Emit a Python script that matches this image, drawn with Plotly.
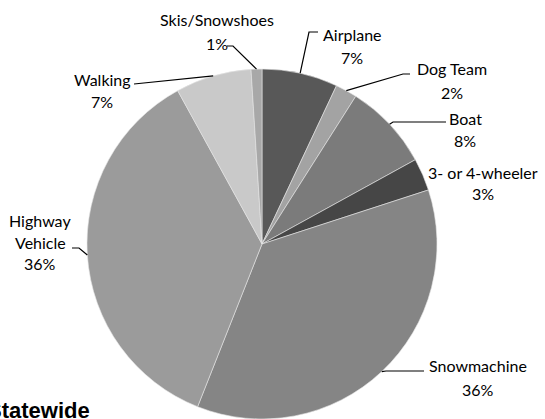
import math
import plotly.graph_objects as go

W, H = 545, 419

categories = ["Airplane", "Dog Team", "Boat", "3- or 4-wheeler", "Snowmachine",
              "Highway Vehicle", "Walking", "Skis/Snowshoes"]
values = [7, 2, 8, 3, 36, 36, 7, 1]
slice_colors = ["#585858", "#a3a3a3", "#7b7b7b", "#464646", "#858585",
                "#9b9b9b", "#c9c9c9", "#a8a8a8"]

# label text lines (name lines + percent)
label_lines = [["Airplane"], ["Dog Team"], ["Boat"], ["3- or 4-wheeler"], ["Snowmachine"],
               ["Highway", "Vehicle"], ["Walking"], ["Skis/Snowshoes"]]

# layout: label block centre x, first-line y (pixels), line spacing
label_x = [352, 452, 465, 483, 478, 40, 102, 217]
label_y = [35, 68, 118, 172, 365, 221, 79, 20]
line_gap = [23, 24, 22, 21, 24, 21, 23, 23]
# leader line label-side points (end, elbow) in pixels; None = no leader
leader_end = [(318, 32), (410, 74), (446, 122), None, (424, 371), (72, 248), (134, 84), (227, 46)]
leader_elbow = [(309, 32), (403, 74), (393, 122), None, (386, 371), (79, 248), (134, 84), (233, 46)]

# pie geometry (pixels)
cx, cy, R = 262, 244, 175


def paper(x, y):
    return x / W, 1 - y / H


fig = go.Figure(go.Pie(
    labels=categories, values=values, sort=False, direction="clockwise", rotation=0,
    marker=dict(colors=slice_colors, line=dict(color="#e6e6e6", width=0.6)),
    textinfo="none", showlegend=False,
    domain=dict(x=[(cx - R) / W, (cx + R) / W], y=[0, 2 * R / H]),
))

total = sum(values)
annotations = []
shapes = []
cum = 0
font = dict(family="Lato, 'Open Sans', sans-serif", size=16, color="#000000")
for i, v in enumerate(values):
    mid = (cum + v / 2) / total * 2 * math.pi
    cum += v
    pct = f"{round(v / total * 100)}%"
    lines = label_lines[i] + [pct]
    for j, t in enumerate(lines):
        px, py = paper(label_x[i], label_y[i] + j * line_gap[i])
        annotations.append(dict(x=px, y=py, xref="paper", yref="paper", text=t,
                                showarrow=False, xanchor="center", yanchor="middle",
                                font=font))
    if leader_end[i] is not None:
        sx = cx + R * math.sin(mid)
        sy = cy - R * math.cos(mid)
        pts = [leader_end[i], leader_elbow[i], (sx, sy)]
        path = "M " + " L ".join(f"{paper(x, y)[0]},{paper(x, y)[1]}" for x, y in pts)
        shapes.append(dict(type="path", path=path, xref="paper", yref="paper",
                           line=dict(color="#000000", width=1.2)))

annotations.append(dict(x=-15 / W, y=1 - 410 / H, xref="paper", yref="paper",
                        text="<b>Statewide</b>", showarrow=False, xanchor="left",
                        yanchor="middle",
                        font=dict(family="Liberation Sans, Arial, sans-serif", size=22,
                                  color="#000000")))

fig.update_layout(width=W, height=H, margin=dict(l=0, r=0, t=0, b=0),
                  paper_bgcolor="white", plot_bgcolor="white",
                  annotations=annotations, shapes=shapes)

fig.write_html("out.html", config={"displayModeBar": False},
               post_script="document.body.style.margin='0';document.body.style.overflow='hidden';")
